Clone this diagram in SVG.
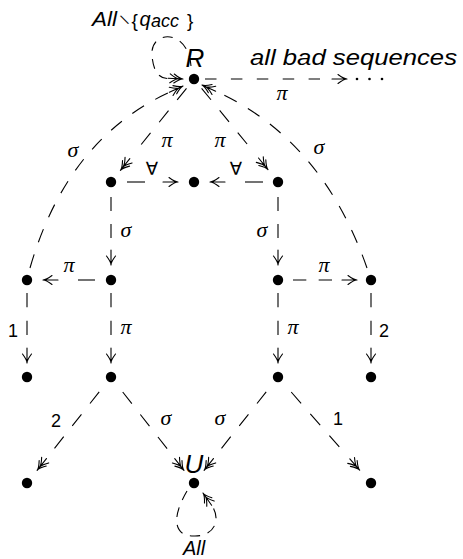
<svg xmlns="http://www.w3.org/2000/svg" xmlns:xlink="http://www.w3.org/1999/xlink" width="463" height="559" viewBox="0 0 463 559">
  <style>
    .edge { fill: none; stroke: #000; stroke-width: 1.1; stroke-dasharray: 14 13; }
    .solid { fill: none; stroke: #000; stroke-width: 1.1; }
    .loop { fill: none; stroke: #000; stroke-width: 1.1; stroke-dasharray: 10 8; }
    .head { fill: none; stroke: #000; stroke-width: 1.1; stroke-linecap: round; }
    .dot { fill: #000; }
    .lbl { font-family: "Liberation Serif", "DejaVu Serif", serif; font-style: italic; font-size: 22px; text-anchor: middle; fill: #000; }
    .num { font-family: "Liberation Sans", "DejaVu Sans", sans-serif; font-size: 18px; text-anchor: middle; fill: #000; }
    .sym { font-family: "DejaVu Sans", sans-serif; font-size: 18px; text-anchor: middle; fill: #000; }
    .big { font-family: "Liberation Sans", "DejaVu Sans", sans-serif; font-style: italic; font-size: 26px; text-anchor: middle; fill: #000; }
    .txt { font-family: "Liberation Sans", "DejaVu Sans", sans-serif; font-style: italic; font-size: 22px; fill: #000; }
    .sm { font-family: "Liberation Sans", "DejaVu Sans", sans-serif; font-style: italic; font-size: 20px; fill: #000; }
    .up { font-family: "DejaVu Sans", sans-serif; font-style: normal; font-size: 13px; }
    .brace { font-family: "Liberation Sans", "DejaVu Sans", sans-serif; font-style: normal; font-size: 19px; }
  </style>
  <defs>
    <!-- single arrowhead, tip at origin pointing +x -->
    <path id="h1" class="head" d="M-9,-4.5 C-5,-1.5 -3,0 0,0 M-9,4.5 C-5,1.5 -3,0 0,0 M-15,0 H0"/>
    <!-- double arrowhead -->
    <path id="h2" class="head" d="M-9,-4.5 C-5,-1.5 -3,0 0,0 M-9,4.5 C-5,1.5 -3,0 0,0 M-13,-4.5 C-9,-1.5 -7,0 -4,0 M-13,4.5 C-9,1.5 -7,0 -4,0 M-15,0 H0"/>
  </defs>

  <g id="connectors">
    <!-- R self loop -->
    <path class="loop" d="M191,66 C188,28 150,30 152,55 C153,70 158,78 167,78.5"/>
    <use xlink:href="#h2" transform="translate(183,79) rotate(3)"/>
    <!-- R to further sequences -->
    <line class="solid" style="stroke-dasharray:11.5 14.4" x1="205" y1="79" x2="320" y2="79"/>
    <use xlink:href="#h1" transform="translate(347,79)"/>
    <!-- R to left/right -->
    <line class="edge" pathLength="68" x1="186.5" y1="88.4" x2="141.2" y2="144.5"/>
    <use xlink:href="#h2" transform="translate(120.4,170.3) rotate(128.9)"/>
    <line class="edge" pathLength="68" x1="201.6" y1="88.3" x2="247.1" y2="144"/>
    <use xlink:href="#h2" transform="translate(268,169.6) rotate(50.8)"/>
    <!-- outer sigma curves into R -->
    <path class="edge" d="M30,268 Q67,139 170.1,92"/>
    <use xlink:href="#h2" transform="translate(183,86) rotate(-24.6)"/>
    <path class="edge" d="M367,268 Q322,139 214.9,90.8"/>
    <use xlink:href="#h2" transform="translate(202,85) rotate(-155.8)"/>
    <!-- forall edges -->
    <line class="solid" x1="127" y1="182" x2="145" y2="182"/>
    <use xlink:href="#h1" transform="translate(178,182)"/>
    <line class="solid" x1="263" y1="182" x2="245" y2="182"/>
    <use xlink:href="#h1" transform="translate(210,182) rotate(180)"/>
    <!-- sigma verticals -->
    <line class="edge" pathLength="41" x1="111" y1="197" x2="111" y2="238"/>
    <use xlink:href="#h1" transform="translate(111,265) rotate(90)"/>
    <line class="edge" pathLength="41" x1="278" y1="197" x2="278" y2="238"/>
    <use xlink:href="#h1" transform="translate(278,265) rotate(90)"/>
    <!-- pi horizontals -->
    <line class="solid" x1="95" y1="280" x2="78" y2="280"/>
    <use xlink:href="#h1" transform="translate(43,280) rotate(180)"/>
    <line class="edge" pathLength="41" x1="293" y1="280" x2="332" y2="280"/>
    <use xlink:href="#h1" transform="translate(357,280)"/>
    <!-- verticals row 3 to row 4 -->
    <line class="edge" pathLength="41" x1="27" y1="293" x2="27" y2="335"/>
    <use xlink:href="#h1" transform="translate(27,363) rotate(90)"/>
    <line class="edge" pathLength="41" x1="111" y1="293" x2="111" y2="335"/>
    <use xlink:href="#h1" transform="translate(111,363) rotate(90)"/>
    <line class="edge" pathLength="41" x1="278" y1="293" x2="278" y2="335"/>
    <use xlink:href="#h1" transform="translate(278,363) rotate(90)"/>
    <line class="edge" pathLength="41" x1="371" y1="293" x2="371" y2="335"/>
    <use xlink:href="#h1" transform="translate(371,363) rotate(90)"/>
    <!-- bottom diagonals -->
    <line class="edge" pathLength="68" x1="99.2" y1="391.9" x2="54.5" y2="448.3"/>
    <use xlink:href="#h2" transform="translate(37.1,470.3) rotate(128.4)"/>
    <line class="edge" pathLength="68" x1="122.7" y1="392" x2="167.1" y2="448.7"/>
    <use xlink:href="#h2" transform="translate(184,470.4) rotate(51.9)"/>
    <line class="edge" pathLength="68" x1="266.2" y1="391.9" x2="221.5" y2="448.3"/>
    <use xlink:href="#h2" transform="translate(204.1,470.3) rotate(128.4)"/>
    <line class="edge" pathLength="68" x1="291.2" y1="392" x2="339.3" y2="446.9"/>
    <use xlink:href="#h2" transform="translate(359.7,470.2) rotate(48.7)"/>
    <!-- U self loop -->
    <path class="loop" d="M187,491 C170,520 175,537 195,536 C215,536 221,519 212,506"/>
    <use xlink:href="#h2" transform="translate(203,493) rotate(-125)"/>

    <!-- edge labels -->
    <text class="lbl" x="167" y="147">π</text>
    <text class="lbl" x="220" y="147">π</text>
    <text class="lbl" x="73" y="157">σ</text>
    <text class="lbl" x="319" y="154">σ</text>
    <text class="sym" x="152" y="175">∀</text>
    <text class="sym" x="236" y="175">∀</text>
    <text class="lbl" x="126" y="237">σ</text>
    <text class="lbl" x="262" y="237">σ</text>
    <text class="lbl" x="69" y="272">π</text>
    <text class="lbl" x="324" y="272">π</text>
    <text class="num" x="13" y="337">1</text>
    <text class="lbl" x="126" y="334">π</text>
    <text class="lbl" x="293" y="334">π</text>
    <text class="num" x="384" y="337">2</text>
    <text class="num" x="56" y="427">2</text>
    <text class="lbl" x="166" y="425">σ</text>
    <text class="lbl" x="220" y="425">σ</text>
    <text class="num" x="338" y="425">1</text>
    <text class="lbl" x="282" y="100">π</text>
  </g>

  <g id="R">
    <circle class="dot" cx="194" cy="79" r="5.2"/>
    <text class="big" x="195" y="67">R</text>
    <!-- loop label: All \ {q_acc} -->
    <text class="sm" y="26"><tspan x="92" textLength="25" lengthAdjust="spacingAndGlyphs">All</tspan><tspan class="up" x="122.5" y="26" rotate="-28">∖</tspan><tspan class="brace" x="131.5" y="27">{</tspan><tspan x="139.5" y="26">q</tspan><tspan x="151" y="27" font-size="18">acc</tspan><tspan class="brace" x="187" y="27">}</tspan></text>
    <text class="txt" x="250" y="65" textLength="207" lengthAdjust="spacingAndGlyphs">all bad sequences</text>
    <circle class="dot" cx="357" cy="79" r="1.3"/>
    <circle class="dot" cx="369.5" cy="79" r="1.3"/>
    <circle class="dot" cx="382" cy="79" r="1.3"/>
  </g>
  <g id="n1"><circle class="dot" cx="111" cy="182" r="5.2"/></g>
  <g id="n2"><circle class="dot" cx="194" cy="182" r="5.2"/></g>
  <g id="n3"><circle class="dot" cx="278" cy="182" r="5.2"/></g>
  <g id="n4"><circle class="dot" cx="27" cy="280" r="5.2"/></g>
  <g id="n5"><circle class="dot" cx="111" cy="280" r="5.2"/></g>
  <g id="n6"><circle class="dot" cx="278" cy="280" r="5.2"/></g>
  <g id="n7"><circle class="dot" cx="371" cy="280" r="5.2"/></g>
  <g id="n8"><circle class="dot" cx="27" cy="377" r="5.2"/></g>
  <g id="n9"><circle class="dot" cx="111" cy="377" r="5.2"/></g>
  <g id="n10"><circle class="dot" cx="278" cy="377" r="5.2"/></g>
  <g id="n11"><circle class="dot" cx="371" cy="377" r="5.2"/></g>
  <g id="n12"><circle class="dot" cx="27" cy="483" r="5.2"/></g>
  <g id="U">
    <circle class="dot" cx="194" cy="483" r="5.2"/>
    <text class="big" x="194" y="473">U</text>
    <text class="sm" x="194" y="555" text-anchor="middle" font-size="18">All</text>
  </g>
  <g id="n13"><circle class="dot" cx="371" cy="483" r="5.2"/></g>
</svg>
